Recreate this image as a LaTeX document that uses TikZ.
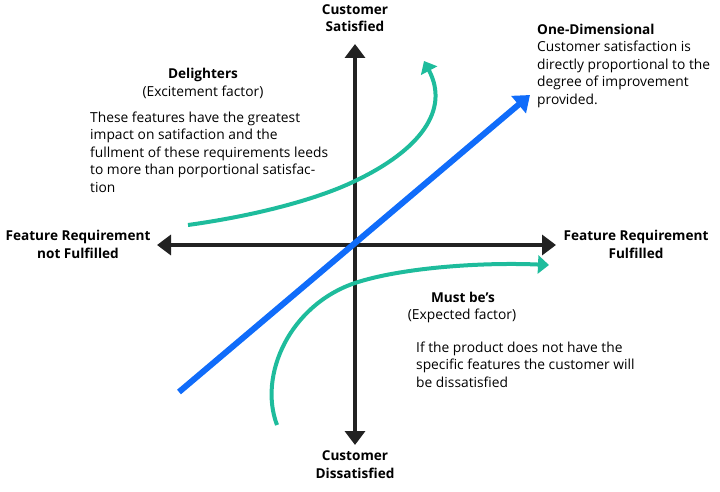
\documentclass[tikz,border=0pt]{standalone}
\usepackage{fontspec}
\setmainfont{Open Sans}
\usetikzlibrary{arrows.meta}
\definecolor{axisc}{RGB}{34,34,34}
\definecolor{tealc}{RGB}{30,188,156}
\definecolor{bluec}{RGB}{16,108,250}
\tikzset{
  axisline/.style={draw=axisc, line width=4pt, {Triangle[width=20pt,length=14pt]}-{Triangle[width=20pt,length=14pt]}},
  curvearrow/.style={draw=tealc, line width=4pt, -{Triangle[width=18pt,length=11pt]}},
  bluearrow/.style={draw=bluec, line width=6pt, -{Triangle[width=22pt,length=15pt]}},
  txt/.style={inner sep=0pt, font=\fontsize{13.8}{17.5}\selectfont, anchor=base},
  btxt/.style={txt, font=\fontsize{13.6}{17.5}\selectfont\bfseries},
}
\begin{document}
\begin{tikzpicture}[x=1pt,y=-1pt]
\useasboundingbox (0,0) rectangle (720,492);
% axes
\coordinate (L) at (157,245);
\coordinate (R) at (556,245);
\coordinate (T) at (355,44);
\coordinate (B) at (355,445);
\draw[axisline] (L) -- (R);
\draw[axisline] (B) -- (T);
% delighters curve
\coordinate (dA) at (188,225);
\coordinate (dM) at (355,181);
\coordinate (dB) at (424,61);
\draw[curvearrow] (dA) .. controls (260,215) and (320,198) .. (dM)
  .. controls (420,150) and (450,110) .. (dB);
% must be curve
\coordinate (mS) at (277,425);
\coordinate (mN) at (355,283);
\coordinate (mE) at (549,265);
\draw[curvearrow] (mS) .. controls (258,375) and (290,305) .. (mN)
  .. controls (400,268) and (480,262) .. (mE);
% one-dimensional
\coordinate (bS) at (179,392);
\coordinate (bE) at (530,95);
\draw[bluearrow] (bS) -- (bE);
% axis labels (base = baseline of last line)
\node[btxt, align=center] (top) at (355,32) {Customer\\Satisfied};
\node[btxt, align=center] (bot) at (355,478) {Customer\\Dissatisfied};
\node[btxt, align=center] (lft) at (78,258) {Feature Requirement\\not Fulfilled};
\node[btxt, align=center] (rgt) at (636,258) {Feature Requirement\\Fulfilled};
% delighters
\node[btxt] (dh) at (203,79) {Delighters};
\node[txt] (dsub) at (203,97) {(Excitement factor)};
\node[txt, align=left, anchor=base west] (dbody) at (90,192) {These features have the greatest\\impact on satifaction and the\\fullment of these requirements leeds\\to more than porportional satisfac-\\tion};
% one-dimensional
\node[btxt, anchor=base west] (oh) at (537,34.5) {One-Dimensional};
\node[txt, align=left, anchor=base west] (obody) at (537,104.5) {Customer satisfaction is\\directly proportional to the\\degree of improvement\\provided.};
% must be
\node[btxt] (mh) at (463,302) {Must be’s};
\node[txt] (msub) at (462,319) {(Expected factor)};
\node[txt, align=left, anchor=base west] (mbody) at (416,387) {If the product does not have the\\specific features the customer will\\be dissatisfied};
\end{tikzpicture}
\end{document}
